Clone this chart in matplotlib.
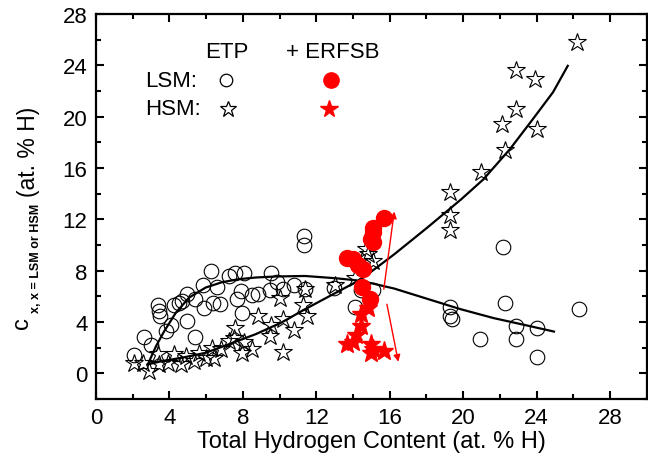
import matplotlib
matplotlib.use("Agg")
import matplotlib.pyplot as plt
from matplotlib.ticker import MultipleLocator

plt.rcParams['font.family'] = ['Liberation Sans', 'DejaVu Sans']

# ---- data: LSM, ETP (open circles)
lsm_etp_x = [2.1, 2.6, 3.0, 3.4, 3.46, 3.5, 3.8, 4.1, 4.27, 4.54, 4.7, 4.96, 4.96, 5.4, 5.4,
             5.9, 5.85, 6.25, 6.4, 6.6, 6.76, 7.24, 7.6, 7.66, 7.9, 7.96, 8.05, 8.5, 8.83,
             9.5, 9.55, 9.86, 10.2, 10.8, 11.35, 11.35, 11.4, 12.95, 14.1, 14.45, 15.1,
             19.3, 19.27, 19.4, 22.2, 22.3, 20.9, 22.9, 22.9, 24.0, 24.0, 26.3]
lsm_etp_y = [1.4, 2.86, 2.2, 5.3, 4.86, 4.47, 3.3, 3.8, 5.3, 5.5, 5.6, 6.2, 4.1, 2.8, 5.8,
             5.1, 6.86, 8.0, 5.5, 6.7, 5.4, 7.6, 7.8, 5.8, 6.4, 4.7, 7.8, 6.1, 6.2,
             6.5, 7.8, 7.1, 6.6, 6.86, 10.7, 10.0, 6.6, 6.65, 5.2, 6.5, 6.5,
             5.2, 4.5, 4.2, 9.8, 5.45, 2.65, 3.7, 2.65, 3.5, 1.3, 5.0]

# ---- data: HSM, ETP (open stars)
hsm_etp_x = [2.1, 2.56, 2.9, 3.37, 3.46, 3.9, 4.27, 4.63, 4.9, 5.35, 5.6, 6.0, 6.34, 6.43,
             6.8, 7.24, 7.6, 7.5, 7.96, 8.05, 8.5, 8.83, 9.5, 9.55, 10.0, 10.2, 10.2, 10.8,
             11.3, 11.5, 11.4, 13.0, 14.1, 14.7, 14.8, 15.08, 19.3, 19.3, 19.3, 20.97,
             22.3, 22.1, 22.9, 24.0, 22.9, 23.9, 26.2]
hsm_etp_y = [0.83, 0.83, 0.18, 1.5, 0.7, 0.83, 1.48, 0.7, 1.35, 0.96, 1.6, 1.22, 2.0, 1.22,
             1.87, 2.5, 3.55, 2.78, 1.6, 2.4, 1.92, 4.5, 2.9, 3.8, 5.9, 4.2, 1.66, 3.4,
             5.3, 4.47, 6.6, 6.86, 7.4, 9.67, 9.3, 8.75, 14.1, 12.3, 11.2, 15.7,
             17.4, 19.45, 20.6, 19.0, 23.6, 22.9, 25.8]

# ---- data: LSM, + ERFSB (red filled circles)
lsm_erf_x = [15.7, 15.08, 15.1, 15.0, 15.08, 13.65, 14.0, 14.27, 14.54, 14.5, 14.95]
lsm_erf_y = [12.1, 11.35, 11.0, 10.45, 10.2, 9.0, 8.9, 8.4, 8.1, 6.7, 5.8]

# ---- data: HSM, + ERFSB (red filled stars)
hsm_erf_x = [13.65, 14.0, 14.18, 14.45, 14.45, 14.8, 15.0, 15.08, 15.0, 15.7]
hsm_erf_y = [2.26, 2.4, 3.0, 3.7, 4.6, 5.1, 2.26, 1.87, 1.6, 1.74]

# ---- fitted curves
lsm_fit_x = [2.83, 3.28, 3.73, 4.36, 5.08, 5.98, 6.88, 7.78, 8.69, 9.77, 11.39, 13.1,
             14.45, 16.25, 18.05, 19.85, 21.66, 23.4, 24.95]
lsm_fit_y = [0.7, 2.13, 3.3, 4.73, 5.9, 6.68, 7.1, 7.33, 7.46, 7.54, 7.58, 7.4,
             7.2, 6.6, 5.8, 5.0, 4.3, 3.75, 3.25]
hsm_fit_x = [2.83, 3.64, 4.72, 5.98, 7.24, 8.69, 10.1, 11.39, 12.5, 13.5, 14.45, 16.25,
             18.05, 19.9, 21.1, 22.55, 23.8, 24.9, 25.7]
hsm_fit_y = [0.7, 0.96, 1.22, 1.6, 2.26, 3.04, 3.95, 4.99, 5.84, 6.6, 7.33, 9.27,
             11.35, 13.56, 15.1, 17.46, 19.8, 21.9, 23.95]

# ---- red arrows (tail -> head)
arrow_up = [(15.68, 6.55), (16.25, 12.6)]
arrow_down = [(15.85, 5.38), (16.47, 0.9)]

x_ticks = [0, 4, 8, 12, 16, 20, 24, 28]
y_ticks = [0, 4, 8, 12, 16, 20, 24, 28]

fig = plt.figure(figsize=(6.48, 4.64), dpi=100)
ax = fig.add_axes([0.148, 0.138, 0.850, 0.830])

ax.plot(lsm_fit_x, lsm_fit_y, color='black', lw=1.6, zorder=3)
ax.plot(hsm_fit_x, hsm_fit_y, color='black', lw=1.6, zorder=3)

ax.plot(lsm_etp_x, lsm_etp_y, ls='none', marker='o', ms=10.5, mfc='none', mec='black', mew=0.8, zorder=2)
ax.plot(hsm_etp_x, hsm_etp_y, ls='none', marker='*', ms=13.5, mfc='none', mec='black', mew=0.8, zorder=2)
ax.plot(lsm_erf_x, lsm_erf_y, ls='none', marker='o', ms=11.5, mfc='red', mec='red', zorder=4)
ax.plot(hsm_erf_x, hsm_erf_y, ls='none', marker='*', ms=14, mfc='red', mec='red', zorder=4)

for tail, head in (arrow_up, arrow_down):
    ax.annotate('', xy=head, xytext=tail,
                arrowprops=dict(arrowstyle='-|>', color='red', lw=1.0,
                                mutation_scale=10, shrinkA=0, shrinkB=0), zorder=5)

# legend-like key
tr = ax.transAxes
ax.text(0.237, 0.901, 'ETP', transform=tr, ha='center', va='center', fontsize=16)
ax.text(0.346, 0.901, '+ ERFSB', transform=tr, ha='left', va='center', fontsize=16)
ax.text(0.089, 0.827, 'LSM:', transform=tr, ha='left', va='center', fontsize=16)
ax.text(0.089, 0.753, 'HSM:', transform=tr, ha='left', va='center', fontsize=16)
ax.plot([0.237], [0.827], transform=tr, marker='o', ms=9, mfc='none', mec='black', mew=0.9)
ax.plot([0.4265], [0.827], transform=tr, marker='o', ms=11, mfc='red', mec='red')
ax.plot([0.240], [0.753], transform=tr, marker='*', ms=12, mfc='none', mec='black', mew=0.9)
ax.plot([0.423], [0.753], transform=tr, marker='*', ms=13, mfc='red', mec='red')

ax.set_xlim(0, 30)
ax.set_ylim(-2, 28)
ax.set_xticks(x_ticks)
ax.set_yticks(y_ticks)
ax.xaxis.set_minor_locator(MultipleLocator(2))
ax.yaxis.set_minor_locator(MultipleLocator(2))
ax.tick_params(which='both', direction='in', top=True, right=True, width=1.5)
ax.tick_params(which='major', length=6, labelsize=16, pad=6)
ax.tick_params(which='minor', length=3.5)
for s in ax.spines.values():
    s.set_linewidth(1.6)

ax.set_xlabel('Total Hydrogen Content (at. % H)', fontsize=17, labelpad=1)

# y label built from three rotated pieces: c, its subscript, and the unit
fig.text(0.034, 0.291, 'c', rotation=90, ha='center', va='bottom', fontsize=17)
fig.text(0.056, 0.3254, 'x, x = LSM or HSM', rotation=90, ha='center', va='bottom',
         fontsize=9, fontweight='bold')
fig.text(0.044, 0.5754, '(at. % H)', rotation=90, ha='center', va='bottom', fontsize=16.5)

fig.savefig('out.png', dpi=100)
